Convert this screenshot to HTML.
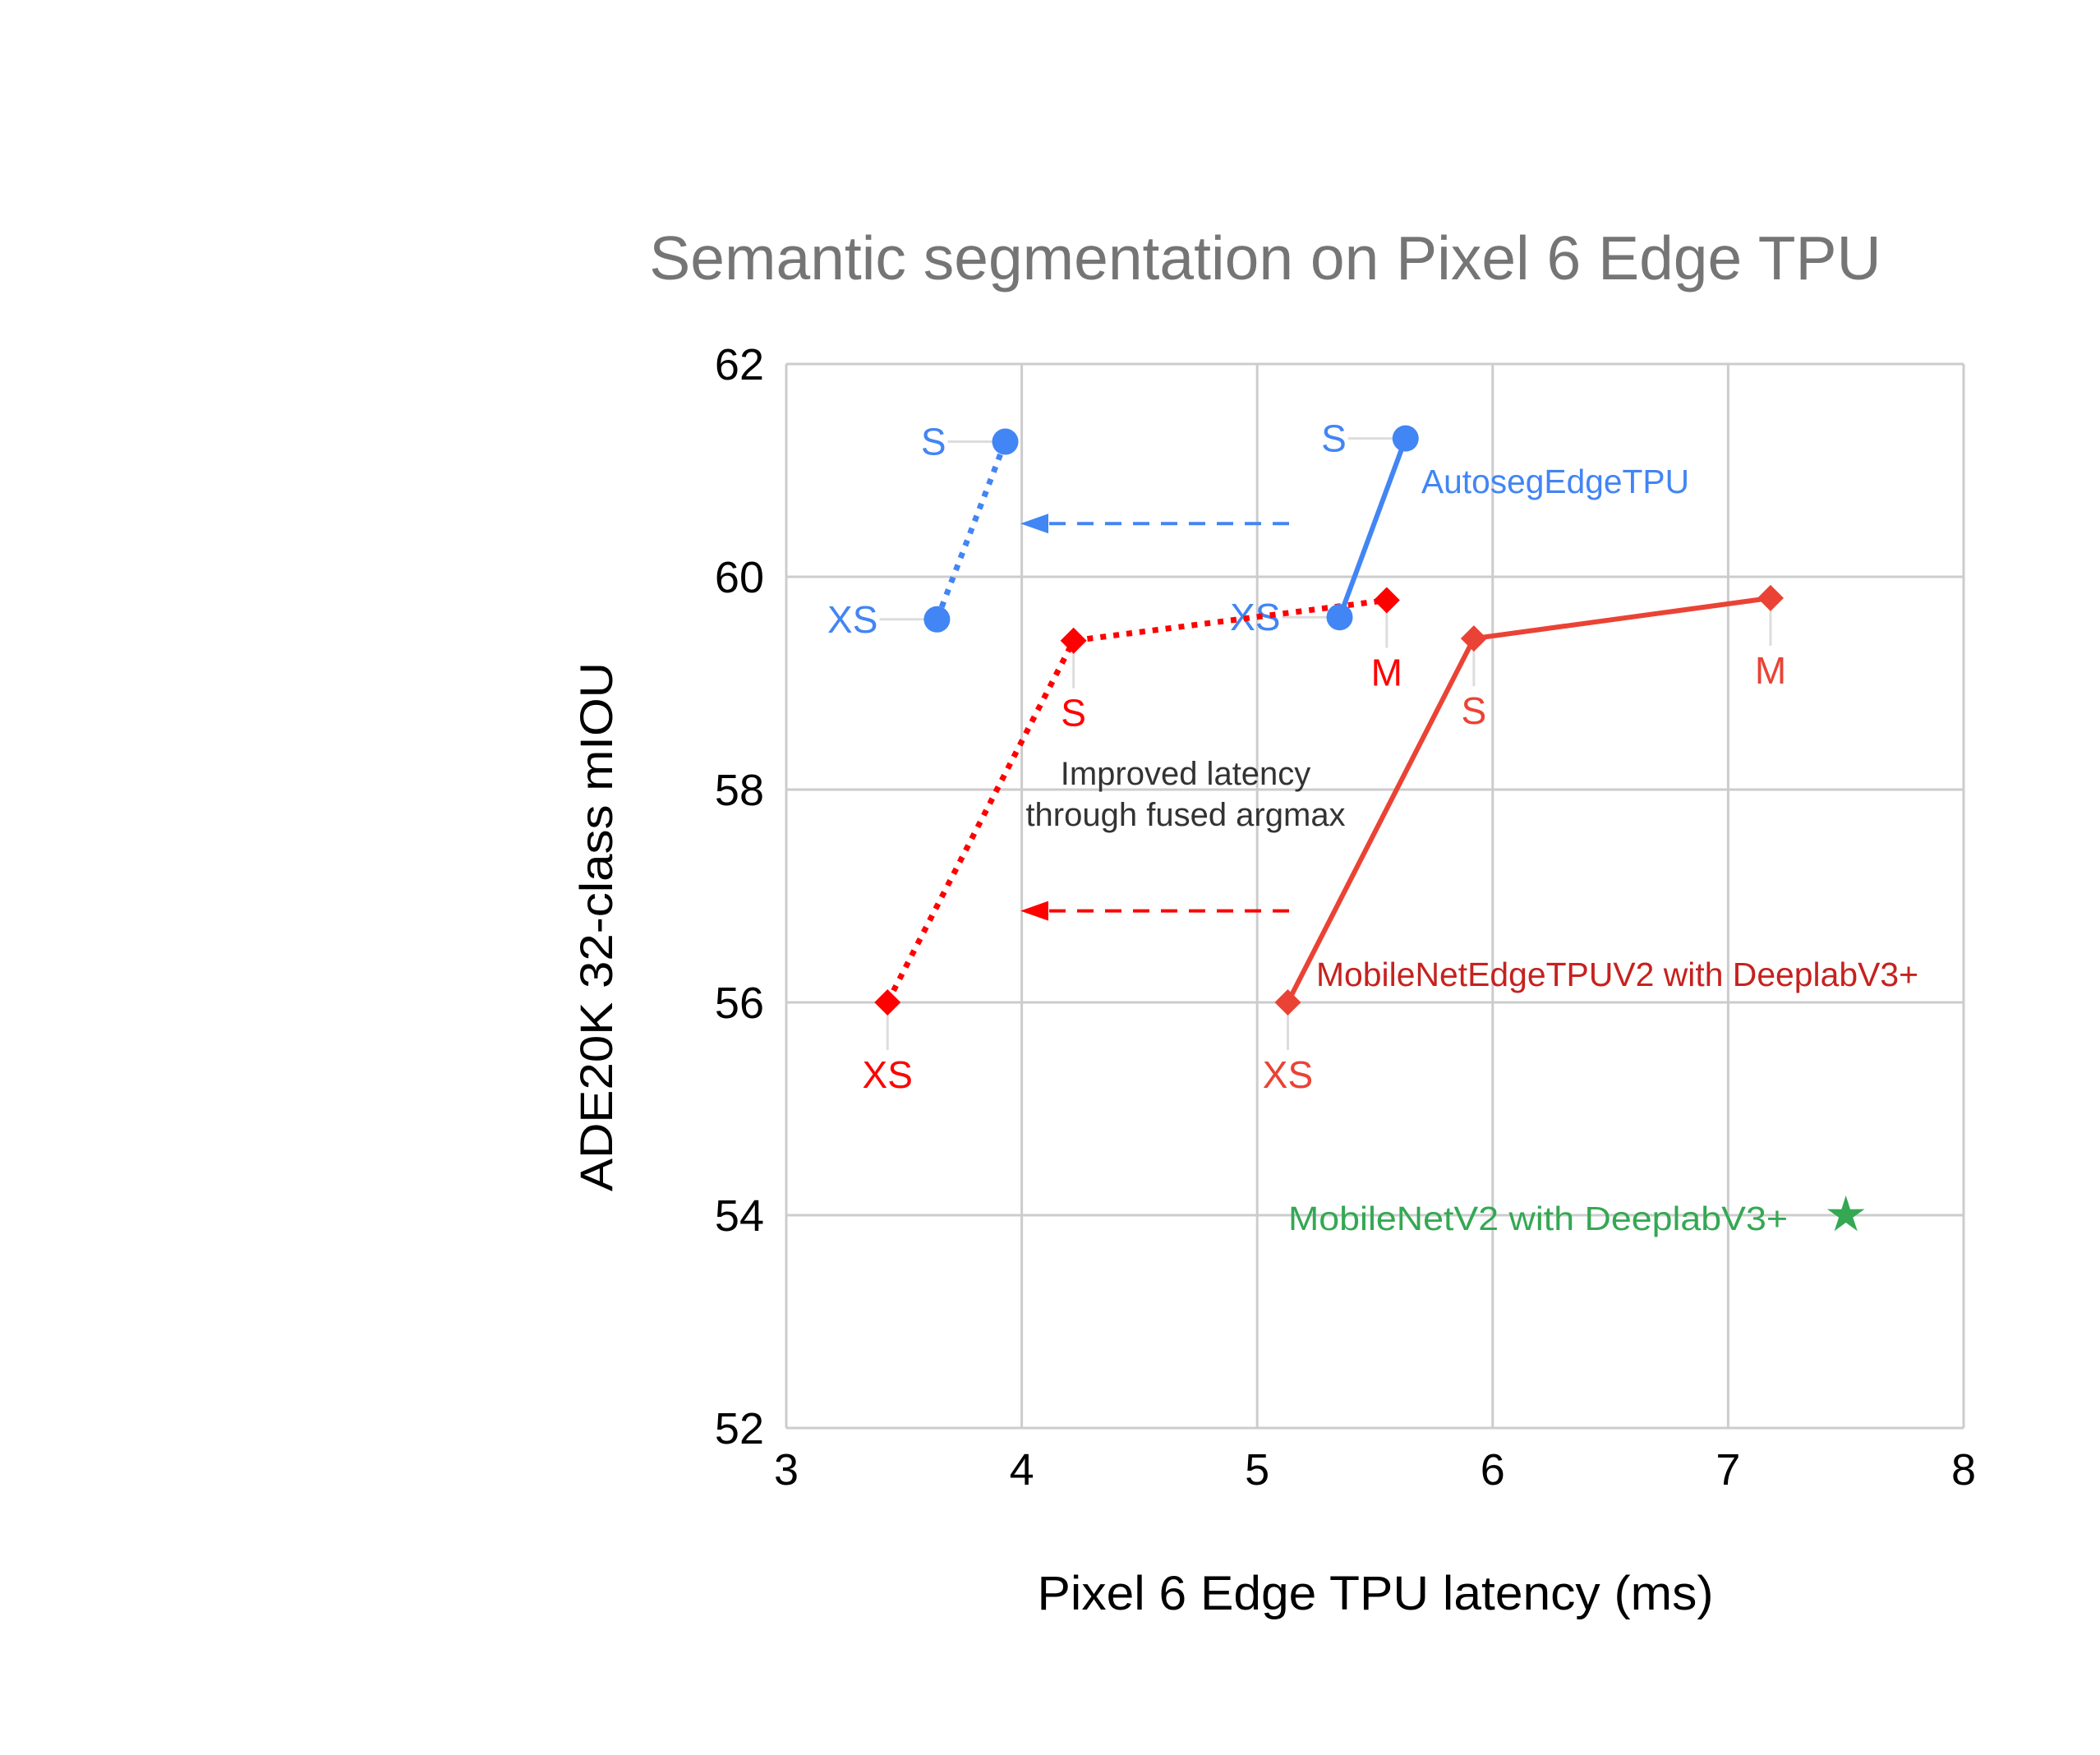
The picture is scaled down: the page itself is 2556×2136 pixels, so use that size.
<!DOCTYPE html>
<html><head><meta charset="utf-8"><style>
html,body{margin:0;padding:0;background:#fff;}
svg{display:block;font-family:"Liberation Sans",Arial,sans-serif;}
</style></head>
<body>
<svg id="chart" width="2556" height="2136" viewBox="0 0 2556 2136" xmlns="http://www.w3.org/2000/svg">
<text x="1540" y="340" text-anchor="middle" font-size="75" fill="#757575">Semantic segmentation on Pixel 6 Edge TPU</text>
<g id="grid"></g>
<g id="marks"></g>
<text transform="translate(745,1128) rotate(-90)" text-anchor="middle" font-size="56" fill="#000" textLength="644" lengthAdjust="spacingAndGlyphs">ADE20K 32-class mIOU</text>
<text x="1674" y="1959" text-anchor="middle" font-size="58" fill="#000" textLength="823" lengthAdjust="spacingAndGlyphs">Pixel 6 Edge TPU latency (ms)</text>
</svg>
<script>
const xTicks = [3,4,5,6,7,8];
const yTicks = [52,54,56,58,60,62];
const blueDottedX = [3.64, 3.93];
const blueDottedY = [59.6, 61.27];
const blueSolidX = [5.35, 5.63];
const blueSolidY = [59.62, 61.3];
const redDottedX = [3.43, 4.22, 5.55];
const redDottedY = [56.0, 59.4, 59.78];
const redSolidX = [5.13, 5.92, 7.18];
const redSolidY = [56.0, 59.42, 59.8];
const sizeLabels2 = ["XS","S"];
const sizeLabels3 = ["XS","S","M"];
const starX = [7.5];
const starY = [54.0];

const X0=957, X1=2390, Y0=1738, Y1=443;
const sx = v => X0 + (v-3)/(8-3)*(X1-X0);
const sy = v => Y0 - (v-52)/(62-52)*(Y0-Y1);
const NS="http://www.w3.org/2000/svg";
function mk(tag, attrs, parent){const e=document.createElementNS(NS,tag);for(const k in attrs)e.setAttribute(k,attrs[k]);parent.appendChild(e);return e;}
const grid=document.getElementById('grid'), marks=document.getElementById('marks');

xTicks.forEach(t=>{
  const l=mk('line',{x1:sx(t),x2:sx(t),y1:Y1,y2:Y0,stroke:'#cccccc','stroke-width':3},grid);
  
  
  const tx=mk('text',{x:sx(t),y:1807,'text-anchor':'middle','font-size':54,fill:'#000'},grid);
  tx.textContent=t;
  
  
});
yTicks.forEach(t=>{
  const l=mk('line',{x1:X0,x2:X1,y1:sy(t),y2:sy(t),stroke:'#cccccc','stroke-width':3},grid);
  
  
  const tx=mk('text',{x:930,y:sy(t)+19,'text-anchor':'end','font-size':54,fill:'#000'},grid);
  tx.textContent=t;
  
  
});

function line(xs,ys,color,dash,name,w){
  const p=mk('polyline',{points:xs.map((x,i)=>sx(x)+','+sy(ys[i])).join(' '),fill:'none',stroke:color,'stroke-width':w,'stroke-dasharray':dash},marks);
  
  
}
function labelLeft(x,y,txt,color){
  const l=mk('line',{x1:sx(x)-70,x2:sx(x),y1:sy(y),y2:sy(y),stroke:'#dddddd','stroke-width':3},marks);
  
  
  const t=mk('text',{x:sx(x)-72,y:sy(y)+16,'text-anchor':'end','font-size':46,fill:color},marks);
  t.textContent=txt;
  
  
}
function labelBelow(x,y,txt,color){
  const l=mk('line',{x1:sx(x),x2:sx(x),y1:sy(y),y2:sy(y)+58,stroke:'#dddddd','stroke-width':3},marks);
  
  
  const t=mk('text',{x:sx(x),y:sy(y)+104,'text-anchor':'middle','font-size':46,fill:color},marks);
  t.textContent=txt;
  
  
}
function circles(xs,ys,color){
  xs.forEach((x,i)=>{
    const c=mk('circle',{cx:sx(x),cy:sy(ys[i]),r:16,fill:color},marks);
    
    
  });
}
function diamonds(xs,ys,color){
  xs.forEach((x,i)=>{
    const cx=sx(x),cy=sy(ys[i]),r=16;
    const d=mk('polygon',{points:`${cx},${cy-r} ${cx+r},${cy} ${cx},${cy+r} ${cx-r},${cy}`,fill:color},marks);
    
    
  });
}

function arrow(yv,color,name){
  const y=sy(yv), xa=1569, xb=1242;
  const l=mk('line',{x1:xa,x2:xb+28,y1:y,y2:y,stroke:color,'stroke-width':4,'stroke-dasharray':'20 14'},marks);
  
  
  const h=mk('polygon',{points:`${xb},${y} ${xb+34},${y-12} ${xb+34},${y+12}`,fill:color},marks);
  
  
}
arrow(60.5,'#4285F4','blue-arrow');
arrow(56.86,'#FF0000','red-arrow');

blueDottedX.forEach((x,i)=>labelLeft(x,blueDottedY[i],sizeLabels2[i],'#4285F4'));
blueSolidX.forEach((x,i)=>labelLeft(x,blueSolidY[i],sizeLabels2[i],'#4285F4'));
redDottedX.forEach((x,i)=>labelBelow(x,redDottedY[i],sizeLabels3[i],'#FF0000'));
redSolidX.forEach((x,i)=>labelBelow(x,redSolidY[i],sizeLabels3[i],'#EA4335'));

line(redDottedX,redDottedY,'#FF0000','7 9','red-dotted-line',7);
line(redSolidX,redSolidY,'#EA4335','none','red-solid-line',6);
line(blueDottedX,blueDottedY,'#4285F4','7 9','blue-dotted-line',7);
line(blueSolidX,blueSolidY,'#4285F4','none','blue-solid-line',6);
diamonds(redDottedX,redDottedY,'#FF0000');
diamonds(redSolidX,redSolidY,'#EA4335');
circles(blueDottedX,blueDottedY,'#4285F4');
circles(blueSolidX,blueSolidY,'#4285F4');

starX.forEach((x,i)=>{
  const cx=sx(x),cy=sy(starY[i]);
  const pts=[];
  for(let k=0;k<10;k++){const r=k%2?9:24;const a=-Math.PI/2+k*Math.PI/5;pts.push((cx+r*Math.cos(a)).toFixed(1)+','+(cy+r*Math.sin(a)).toFixed(1));}
  const s=mk('polygon',{points:pts.join(' '),fill:'#34A853'},marks);
  
  
});

function txt(x,y,s,color,size,name,anchor,len){
  const t=mk('text',{x:x,y:y,'font-size':size,fill:color,'text-anchor':anchor||'start'},marks);
  if(len){t.setAttribute('textLength',len);t.setAttribute('lengthAdjust','spacingAndGlyphs');}
  t.textContent=s;
  
  
}
txt(1730,600,'AutosegEdgeTPU','#4285F4',41,'autoseg-annotation','start',326);
txt(1602,1200,'MobileNetEdgeTPUV2 with DeeplabV3+','#C5221F',41,'mobilenet-edgetpu-annotation','start',733);
txt(1568,1497,'MobileNetV2 with DeeplabV3+','#34A853',41,'mobilenetv2-annotation','start',608);
txt(1443,955,'Improved latency','#333333',40,'fused-argmax-annotation-line1','middle');
txt(1443,1005,'through fused argmax','#333333',40,'fused-argmax-annotation-line2','middle');
</script>
</body></html>
